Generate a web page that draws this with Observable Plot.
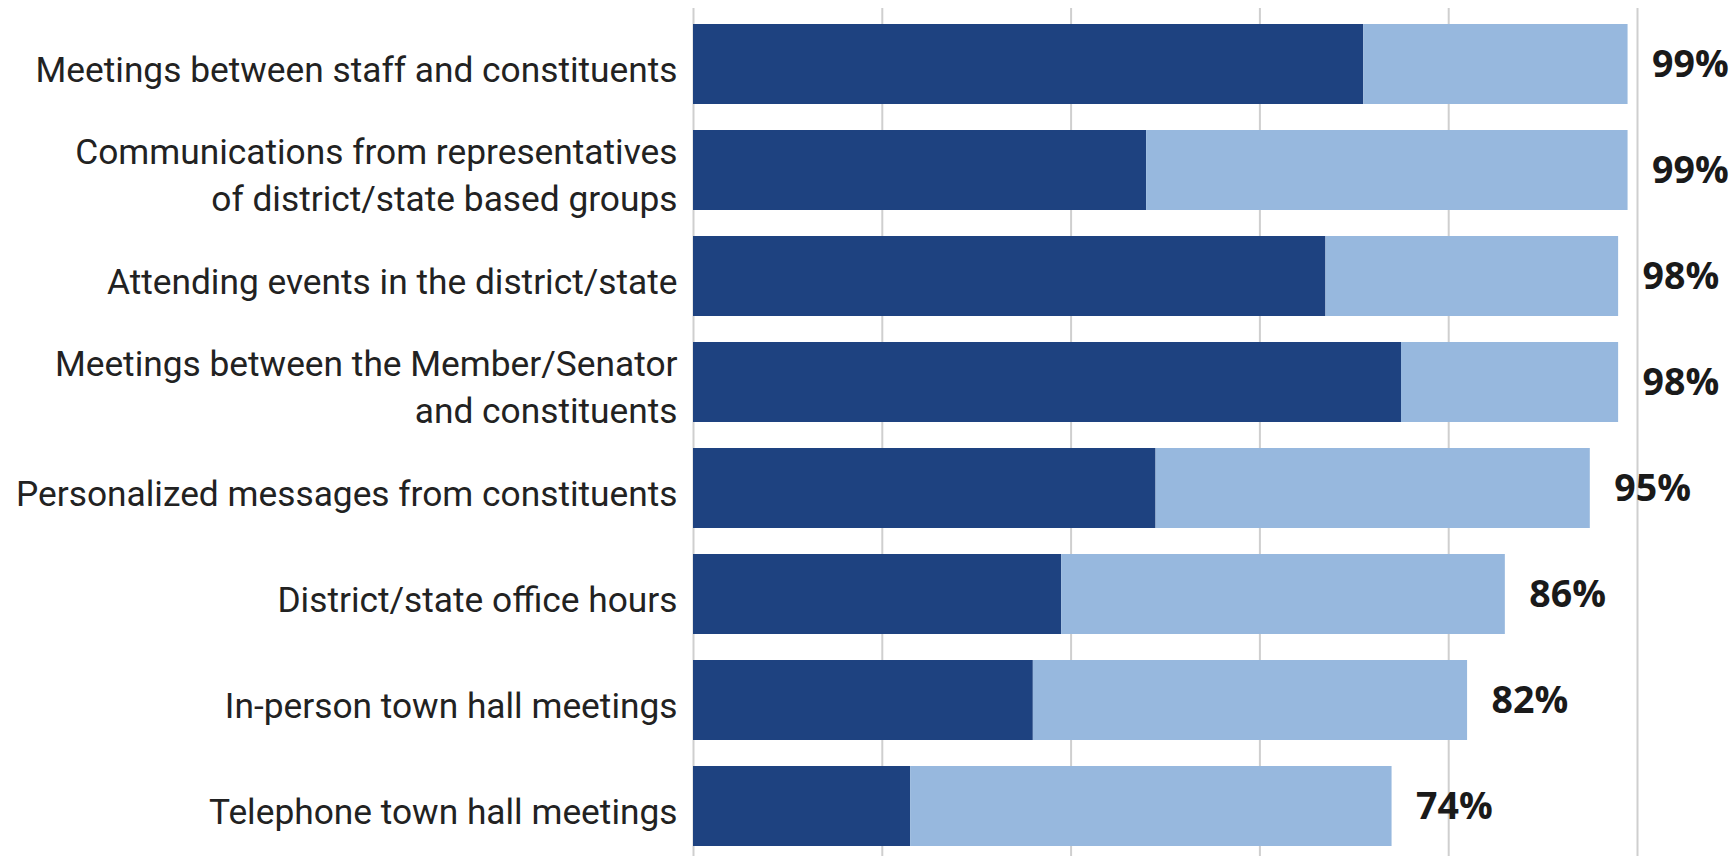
<!DOCTYPE html>
<html>
<head>
<meta charset="utf-8">
<script src="https://cdn.jsdelivr.net/npm/d3@7"></script>
<script src="https://cdn.jsdelivr.net/npm/@observablehq/plot@0.6"></script>
<style>
  html, body { margin: 0; padding: 0; background: #fff; }
  #chart svg { display: block; }
</style>
</head>
<body>
<div id="chart"></div>
<script>
const categories = [
  "Meetings between staff and constituents",
  "Communications from representatives\nof district/state based groups",
  "Attending events in the district/state",
  "Meetings between the Member/Senator\nand constituents",
  "Personalized messages from constituents",
  "District/state office hours",
  "In-person town hall meetings",
  "Telephone town hall meetings"
];
const veryImportant = [71, 48, 67, 75, 49, 39, 36, 23];
const totalImportant = [99, 99, 98, 98, 95, 86, 82, 74];
const seriesNames = ["Very important", "Somewhat important"];
const seriesColors = ["#1e4280", "#97b8de"];
const xTicks = [0, 20, 40, 60, 80, 100];

const rows = categories.flatMap((c, i) => [
  {category: c, series: seriesNames[0], value: veryImportant[i]},
  {category: c, series: seriesNames[1], value: totalImportant[i] - veryImportant[i]}
]);
const totals = categories.map((c, i) => ({category: c, total: totalImportant[i]}));

const chart = Plot.plot({
  width: 1735,
  height: 856,
  marginLeft: 693,
  marginRight: 98,
  marginTop: 8,
  marginBottom: 0,
  x: {domain: [0, 100], axis: null},
  y: {domain: categories, range: [7.5, 861.4], paddingInner: 0.25, paddingOuter: 0.125, axis: null},
  color: {domain: seriesNames, range: seriesColors},
  marks: [
    Plot.ruleX(xTicks, {stroke: "#cfcfcf", strokeWidth: 2}),
    Plot.barX(rows, Plot.stackX({y: "category", x: "value", fill: "series", order: seriesNames})),
    Plot.text(totals, {
      x: "total", y: "category", text: d => d.total + "%",
      textAnchor: "start", dx: 24,
      fontFamily: "Open Sans", fontWeight: "bold", fontSize: 37.5, fill: "#1a1a1a"
    }),
    Plot.text(categories, {
      y: d => d, text: d => d, frameAnchor: "left", dx: -16, dy: 2, textAnchor: "end",
      lineHeight: 1.34, fontFamily: "Roboto", fontSize: 35.3, fill: "#222"
    })
  ]
});
document.getElementById("chart").appendChild(chart);
</script>
</body>
</html>
